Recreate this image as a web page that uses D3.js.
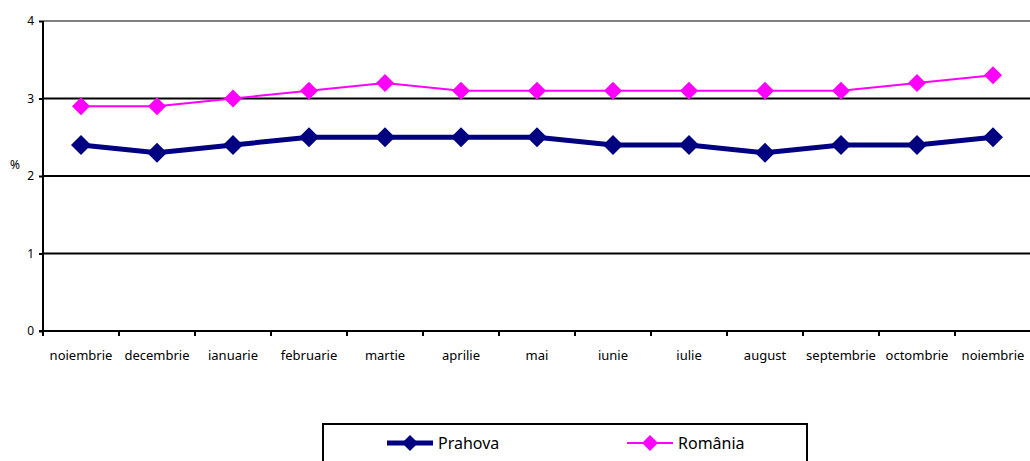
<!DOCTYPE html>
<html>
<head>
<meta charset="utf-8">
<script src="https://cdn.jsdelivr.net/npm/d3@7"></script>
<style>
  body { margin: 0; background: #fff; }
  svg { display: block; font-family: "Noto Sans", "Open Sans", sans-serif; }
</style>
</head>
<body>
<div id="chart"></div>
<script>
// categories and series
let months = ['noiembrie', 'decembrie', 'ianuarie', 'februarie', 'martie', 'aprilie', 'mai',
    'iunie', 'iulie', 'august', 'septembrie', 'octombrie', 'noiembrie'];
let prahova = [2.4, 2.3, 2.4, 2.5, 2.5, 2.5, 2.5, 2.4, 2.4, 2.3, 2.4, 2.4, 2.5];
let romania = [2.9, 2.9, 3.0, 3.1, 3.2, 3.1, 3.1, 3.1, 3.1, 3.1, 3.1, 3.2, 3.3];
let yTicks = [0, 1, 2, 3, 4];
let seriesNames = ['Prahova', 'România'];

let width = 1030, height = 461;
let svg = d3.select('#chart')
    .append('svg')
    .attr('width', width)
    .attr('height', height)
;

// plot area
let plotLeft = 43, plotRight = 1031, plotTop = 21, plotBottom = 331;

let x = d3.scaleBand()
    .domain(months.map((d, i) => i))
    .range([plotLeft, plotRight])
;
let y = d3.scaleLinear()
    .domain([0, 4])
    .range([plotBottom, plotTop])
;

// horizontal grid lines
svg.selectAll('line.grid')
    .data(yTicks.filter(d => d > 0))
    .enter()
    .append('line')
    .attr('class', 'grid')
    .attr('x1', plotLeft)
    .attr('x2', width)
    .attr('y1', d => y(d))
    .attr('y2', d => y(d))
    .style('stroke', d => d == 4 ? '#808080' : '#000')
    .style('stroke-width', 2)
;

// y axis
let yAxis = svg.append('g')
    .attr('transform', `translate(${plotLeft},0)`)
    .call(d3.axisLeft(y).tickValues(yTicks).tickFormat(d3.format('d')).tickSize(4).tickPadding(5));
yAxis.select('.domain').style('stroke', '#000').style('stroke-width', 2)
    .attr('d', `M0,${plotTop}V${plotBottom}`);
yAxis.selectAll('.tick line').style('stroke', '#000').style('stroke-width', 2);
yAxis.selectAll('.tick text').style('font-size', '12px').style('fill', '#000')
    .style('font-family', '"Noto Sans", sans-serif');

// x axis
let xAxis = svg.append('g')
    .attr('transform', `translate(0,${plotBottom})`);
xAxis.append('line')
    .attr('x1', plotLeft - 4)
    .attr('x2', width)
    .attr('y1', 0)
    .attr('y2', 0)
    .style('stroke', '#000')
    .style('stroke-width', 2)
;
xAxis.selectAll('line.tick')
    .data(months.map((d, i) => i))
    .enter()
    .append('line')
    .attr('class', 'tick')
    .attr('x1', d => x(d))
    .attr('x2', d => x(d))
    .attr('y1', 0)
    .attr('y2', 5)
    .style('stroke', '#000')
    .style('stroke-width', 2)
;
xAxis.selectAll('text')
    .data(months)
    .enter()
    .append('text')
    .attr('x', (d, i) => x(i) + x.bandwidth() / 2)
    .attr('y', 29)
    .attr('text-anchor', 'middle')
    .style('font-size', '13px')
    .text(d => d)
;

// % label
svg.append('text')
    .attr('x', 15)
    .attr('y', 169)
    .attr('text-anchor', 'middle')
    .style('font-size', '12px')
    .text('%')
;

let cx = i => x(i) + x.bandwidth() / 2;
let diamond = s => `M0,${-s}L${s},0L0,${s}L${-s},0Z`;

function drawSeries(values, color, lineW, size) {
    let line = d3.line()
        .x((d, i) => cx(i))
        .y(d => y(d));
    svg.append('path')
        .datum(values)
        .attr('d', line)
        .style('fill', 'none')
        .style('stroke', color)
        .style('stroke-width', lineW)
    ;
    svg.selectAll(null)
        .data(values)
        .enter()
        .append('path')
        .attr('d', diamond(size))
        .attr('transform', (d, i) => `translate(${cx(i)},${y(d)})`)
        .style('fill', color)
    ;
}
drawSeries(romania, '#ff00ff', 2, 9);
drawSeries(prahova, '#000080', 5, 10);

// legend
let legend = svg.append('g');
legend.append('rect')
    .attr('x', 323)
    .attr('y', 424)
    .attr('width', 484)
    .attr('height', 50)
    .style('fill', '#fff')
    .style('stroke', '#000')
    .style('stroke-width', 2)
;
let legendItems = [
    {name: seriesNames[0], color: '#000080', w: 5, s: 8, x: 387},
    {name: seriesNames[1], color: '#ff00ff', w: 2, s: 8, x: 627}
];
legendItems.forEach(it => {
    legend.append('line')
        .attr('x1', it.x).attr('x2', it.x + 46)
        .attr('y1', 443).attr('y2', 443)
        .style('stroke', it.color).style('stroke-width', it.w);
    legend.append('path')
        .attr('d', diamond(it.s))
        .attr('transform', `translate(${it.x + 23},443)`)
        .style('fill', it.color);
    legend.append('text')
        .attr('x', it.x + 51)
        .attr('y', 449)
        .style('font-size', '16px')
        .text(it.name);
});
</script>
</body>
</html>
